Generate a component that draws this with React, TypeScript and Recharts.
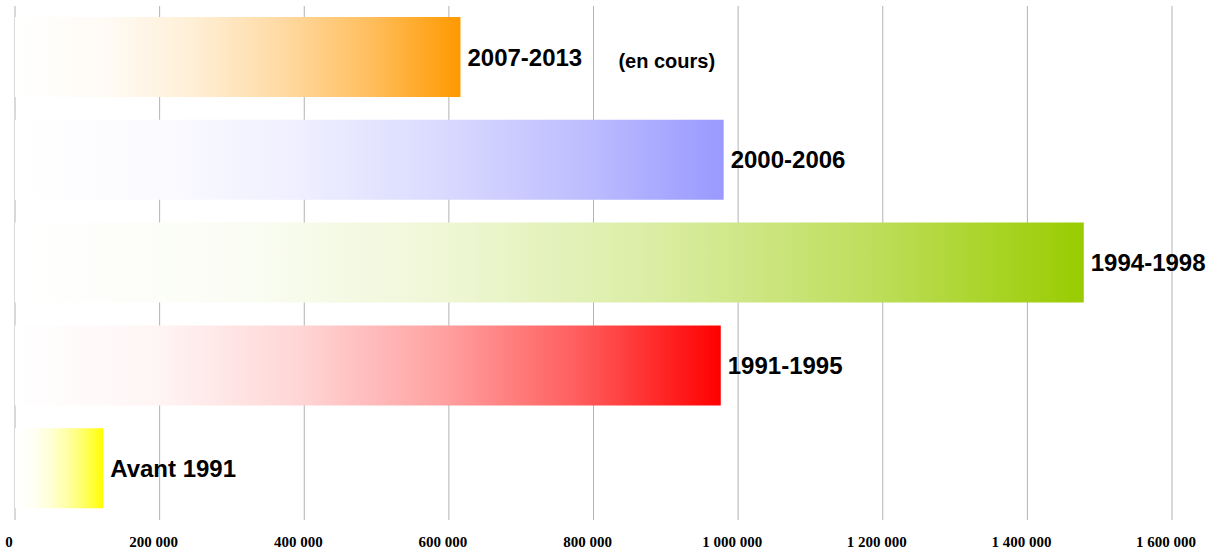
import { BarChart, Bar, XAxis, YAxis, CartesianGrid, Cell, LabelList } from "recharts";

const periods = ["2007-2013", "2000-2006", "1994-1998", "1991-1995", "Avant 1991"];
const amounts = [616000, 980000, 1478000, 976000, 122000];
const notes = ["(en cours)", "", "", "", ""];
const barColors = ["#ff9900", "#9999ff", "#99cc00", "#ff0000", "#ffff00"];
const xTicks = [0, 200000, 400000, 600000, 800000, 1000000, 1200000, 1400000, 1600000];

const data = periods.map((period, i) => ({ period, amount: amounts[i], note: notes[i] }));

const fmt = (v: number) => String(v).replace(/\B(?=(\d{3})+(?!\d))/g, " ");

// white -> colour, eased so the left part stays pale
const gradStops = [0, 0.2, 0.4, 0.6, 0.8, 1];
function mixWhite(hex: string, t: number) {
  const n = parseInt(hex.slice(1), 16);
  const ch = [(n >> 16) & 255, (n >> 8) & 255, n & 255].map((c) =>
    Math.round(255 + (c - 255) * t)
  );
  return `rgb(${ch.join(",")})`;
}

function PeriodLabel(props: any) {
  const { x, y, width, height, index } = props;
  const cy = y + height / 2;
  const tx = x + width + 7;
  const note = notes[index];
  return (
    <g>
      <text
        x={tx}
        y={cy}
        dominantBaseline="central"
        fontFamily="'Liberation Sans', Arial, sans-serif"
        fontWeight="bold"
        fontSize={24}
        fill="#000"
      >
        {periods[index]}
      </text>
      {note && (
        <text
          x={tx + 151}
          y={cy + 4}
          dominantBaseline="central"
          fontFamily="'Liberation Sans', Arial, sans-serif"
          fontWeight="bold"
          fontSize={20}
          fill="#000"
        >
          {note}
        </text>
      )}
    </g>
  );
}

export default function App() {
  return (
    <div style={{ position: "absolute", left: 0, top: 0, background: "#fff" }}>
      <BarChart
        width={1221}
        height={555}
        data={data}
        layout="vertical"
        margin={{ top: 6, right: 49, bottom: 0, left: 15 }}
      >
        <defs>
          {barColors.map((c, i) => (
            <linearGradient key={i} id={`grad${i}`} x1="0" y1="0" x2="1" y2="0">
              {gradStops.map((s) => (
                <stop key={s} offset={s} stopColor={mixWhite(c, s * s)} />
              ))}
            </linearGradient>
          ))}
        </defs>
        <CartesianGrid horizontal={false} stroke="#b3b3b3" />
        <XAxis
          type="number"
          domain={[0, 1600000]}
          ticks={xTicks}
          tickFormatter={fmt}
          axisLine={false}
          tickLine={false}
          height={35}
          tickMargin={10}
          dx={-6}
          interval={0}
          tick={{
            fontFamily: "'Liberation Serif', 'Times New Roman', serif",
            fontWeight: "bold",
            fontSize: 15,
            fill: "#000",
          }}
        />
        <YAxis
          type="category"
          dataKey="period"
          width={0}
          tick={false}
          tickLine={false}
          axisLine={{ stroke: "#000", strokeWidth: 1 }}
        />
        <Bar dataKey="amount" barSize={80} isAnimationActive={false}>
          {data.map((d, i) => (
            <Cell key={d.period} fill={`url(#grad${i})`} />
          ))}
          <LabelList dataKey="period" content={<PeriodLabel />} />
        </Bar>
      </BarChart>
    </div>
  );
}
